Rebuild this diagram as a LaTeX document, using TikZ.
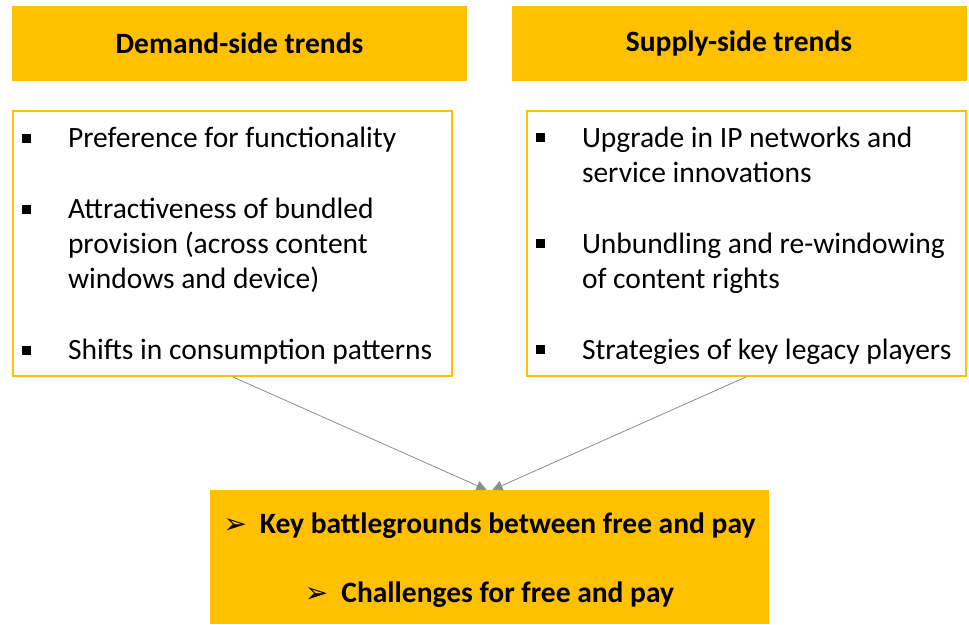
\documentclass[tikz,border=0pt]{standalone}
\usepackage{fontspec}
\setmainfont{Carlito}
\newfontfamily\pointerfont{DejaVu Sans}
\usetikzlibrary{arrows.meta,positioning,calc}
\definecolor{TrendGold}{HTML}{FFC000}
\definecolor{TrendGrey}{HTML}{8C8C8C}
\newcommand{\trendbullet}[1]{\par\rightskip=0pt plus 1fil\spaceskip=0pt\xspaceskip=0pt
  \parfillskip=0pt plus 1fil\hyphenpenalty=10000
  \hangindent=46pt\hangafter=1\noindent
  \makebox[46pt][l]{\raisebox{5pt}{\rule{9pt}{9pt}}}#1\par}
\newcommand{\trendgap}{\par\vskip36pt}
\newcommand{\trendend}{\par\vskip10pt\hrule height0pt width0pt}
\newcommand{\outcomeline}[1]{\raisebox{-3pt}[\height][\depth]{{\pointerfont\fontsize{28}{28}\selectfont ➢}\hspace{13pt}#1}}

\begin{document}
\begin{tikzpicture}[
    x=1pt, y=1pt,
    node distance=30pt,
    header/.style={fill=TrendGold, minimum width=455pt, minimum height=75pt,
      inner sep=0pt, font=\fontsize{29.5}{35}\selectfont\bfseries},
    trendbox/.style={draw=TrendGold, line width=1.5pt, minimum height=265pt,
      text width=421pt, inner xsep=9pt, inner ysep=0pt, align=left,
      font=\fontsize{29.5}{35}\selectfont},
    outcome/.style={fill=TrendGold, minimum width=559pt, minimum height=134pt,
      align=center, font=\fontsize{29.5}{69}\selectfont\bfseries},
    arrow/.style={-{Triangle[length=10pt, width=10pt]}, line width=0.8pt, draw=TrendGrey}
  ]
    \useasboundingbox (0,0) rectangle (969,-624);
    \node[header] (demandhead) at (239.5,-43.5) {Demand-side trends};
    \node[header] (supplyhead) at (739,-43.5) {Supply-side trends};
    \node[trendbox] (demand) at (232.5,-243.5) {%
      \trendbullet{Preference for functionality}\trendgap
      \trendbullet{Attractiveness of bundled\newline provision (across content\newline windows and device)}\trendgap
      \trendbullet{Shifts in consumption patterns}\trendend};
    \node[trendbox] (supply) at (746.5,-243.5) {%
      \trendbullet{Upgrade in IP networks and\newline service innovations}\trendgap
      \trendbullet{Unbundling and re-windowing\newline of content rights}\trendgap
      \trendbullet{Strategies of key legacy players}\trendend};
    \node[outcome] (battle) at (489.5,-557) {\outcomeline{Key battlegrounds between free and pay}\\
      \outcomeline{Challenges for free and pay}};
    \draw[arrow] (demand.south) -- ([xshift=-3pt]battle.north);
    \draw[arrow] (supply.south) -- ([xshift=3pt]battle.north);
  \end{tikzpicture}
\end{document}
